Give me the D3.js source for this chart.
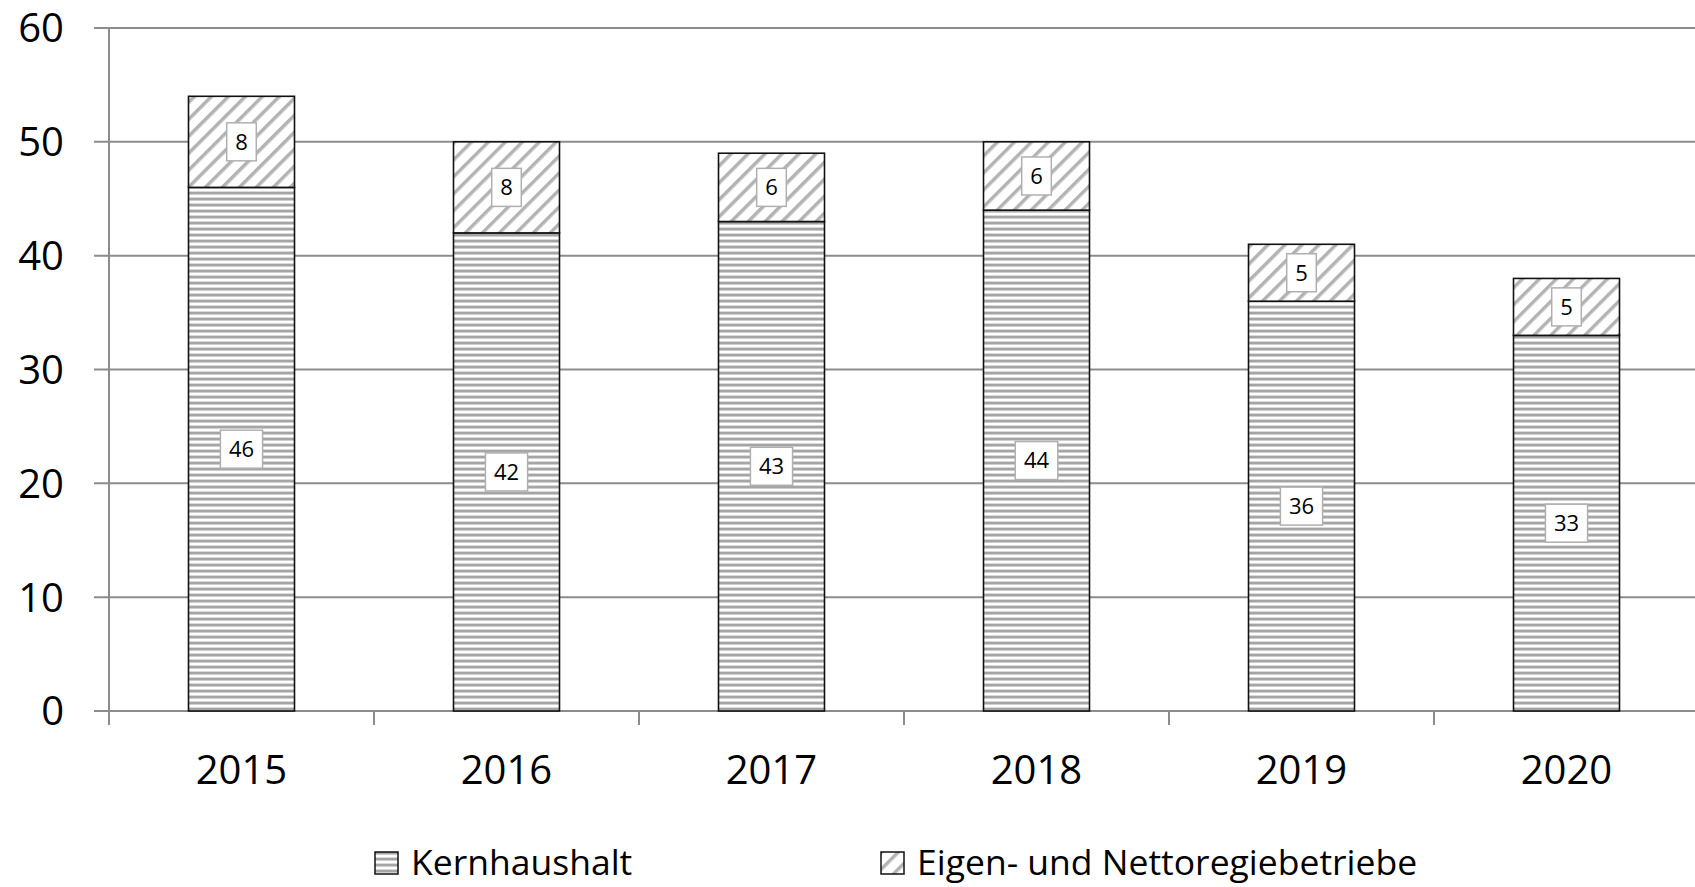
<!DOCTYPE html>
<html>
<head>
<meta charset="utf-8">
<script src="https://cdn.jsdelivr.net/npm/d3@7"></script>
<style>
  body { margin: 0; background: #fff; }
  svg { display: block; font-family: "Open Sans", sans-serif; }
</style>
</head>
<body>
<div id="chart"></div>
<script>
// data
var years = ["2015", "2016", "2017", "2018", "2019", "2020"];
var kernhaushalt = [46, 42, 43, 44, 36, 33];
var eigenbetriebe = [8, 8, 6, 6, 5, 5];
var seriesNames = ["Kernhaushalt", "Eigen- und Nettoregiebetriebe"];
var yTicks = [0, 10, 20, 30, 40, 50, 60];

var W = 1695, H = 887;
var plot = { left: 109, right: 1699, top: 28, bottom: 711 };

var svg = d3.select("#chart").append("svg")
    .attr("width", W)
    .attr("height", H);

// patterns
var defs = svg.append("defs");

var hp = defs.append("pattern")
    .attr("id", "hstripe")
    .attr("patternUnits", "userSpaceOnUse")
    .attr("width", 8).attr("height", 6);
hp.append("rect").attr("width", 8).attr("height", 6).attr("fill", "#fff");
hp.append("rect").attr("y", 0).attr("width", 8).attr("height", 2).attr("fill", "#a5a5a5");
hp.append("rect").attr("y", 2).attr("width", 8).attr("height", 1).attr("fill", "#cfcfcf");
hp.append("rect").attr("y", 5).attr("width", 8).attr("height", 1).attr("fill", "#dadada");

var dp = defs.append("pattern")
    .attr("id", "dstripe")
    .attr("patternUnits", "userSpaceOnUse")
    .attr("width", 12).attr("height", 12)
    .attr("patternTransform", "rotate(45)");
dp.append("rect").attr("width", 12).attr("height", 12).attr("fill", "#fff");
dp.append("rect").attr("x", 0).attr("width", 3.5).attr("height", 12).attr("fill", "#b3b3b3");

var fills = ["url(#hstripe)", "url(#dstripe)"];

// scales
var x = d3.scaleBand()
    .domain(years)
    .range([plot.left, plot.right])
    .paddingInner(0.6)
    .paddingOuter(0.3);

var y = d3.scaleLinear()
    .domain([0, 60])
    .range([plot.bottom, plot.top]);

// gridlines
svg.append("g")
    .selectAll("line")
    .data(yTicks)
    .enter().append("line")
    .attr("x1", plot.left - 15)
    .attr("x2", W)
    .attr("y1", function (d) { return y(d); })
    .attr("y2", function (d) { return y(d); })
    .attr("stroke", "#8c8c8c")
    .attr("stroke-width", 2);

// y axis line
svg.append("line")
    .attr("x1", plot.left).attr("x2", plot.left)
    .attr("y1", y(60)).attr("y2", plot.bottom + 14)
    .attr("stroke", "#8c8c8c")
    .attr("stroke-width", 2);

// category ticks
var step = x.step();
svg.append("g")
    .selectAll("line")
    .data(years.slice(1))
    .enter().append("line")
    .attr("x1", function (d, i) { return plot.left + step * (i + 1); })
    .attr("x2", function (d, i) { return plot.left + step * (i + 1); })
    .attr("y1", plot.bottom)
    .attr("y2", plot.bottom + 14)
    .attr("stroke", "#8c8c8c")
    .attr("stroke-width", 2);

// y tick labels
svg.append("g")
    .selectAll("text")
    .data(yTicks)
    .enter().append("text")
    .attr("x", 64)
    .attr("y", function (d) { return y(d); })
    .attr("dy", "0.36em")
    .attr("text-anchor", "end")
    .attr("font-size", 40)
    .text(function (d) { return d; });

// x labels
svg.append("g")
    .selectAll("text")
    .data(years)
    .enter().append("text")
    .attr("x", function (d) { return x(d) + x.bandwidth() / 2; })
    .attr("y", 784)
    .attr("text-anchor", "middle")
    .attr("font-size", 40)
    .text(function (d) { return d; });

// stacked bars
var rows = years.map(function (yr, i) {
    return { year: yr, k: kernhaushalt[i], e: eigenbetriebe[i] };
});
var stack = d3.stack().keys(["k", "e"]);
var layers = stack(rows);

var bars = svg.append("g");
layers.forEach(function (layer, li) {
    bars.append("g")
        .selectAll("rect")
        .data(layer)
        .enter().append("rect")
        .attr("x", function (d) { return x(d.data.year); })
        .attr("y", function (d) { return y(d[1]); })
        .attr("width", x.bandwidth())
        .attr("height", function (d) { return y(d[0]) - y(d[1]); })
        .attr("fill", fills[li])
        .attr("stroke", "#111")
        .attr("stroke-width", 1.6);
});

// data labels
var labels = svg.append("g");
layers.forEach(function (layer) {
    layer.forEach(function (d) {
        var cx = x(d.data.year) + x.bandwidth() / 2;
        var cy = y((d[0] + d[1]) / 2);
        var g = labels.append("g");
        var t = g.append("text")
            .attr("x", cx)
            .attr("y", cy)
            .attr("dy", "0.36em")
            .attr("text-anchor", "middle")
            .attr("font-size", 22)
            .text(d[1] - d[0]);
        var bb = t.node().getBBox();
        var bw = bb.width + 17, bh = 38;
        g.insert("rect", "text")
            .attr("x", cx - bw / 2)
            .attr("y", cy - bh / 2)
            .attr("width", bw)
            .attr("height", bh)
            .attr("fill", "#fff")
            .attr("stroke", "#b0b0b0")
            .attr("stroke-width", 1.5);
    });
});

// legend
var legendX = [375, 881];
var legend = svg.append("g");
seriesNames.forEach(function (name, i) {
    legend.append("rect")
        .attr("x", legendX[i])
        .attr("y", 852)
        .attr("width", 23)
        .attr("height", 22)
        .attr("fill", fills[i])
        .attr("stroke", "#111")
        .attr("stroke-width", 1.5);
    legend.append("text")
        .attr("x", legendX[i] + 36)
        .attr("y", 875)
        .attr("font-size", 35.5)
        .text(name);
});
</script>
</body>
</html>
